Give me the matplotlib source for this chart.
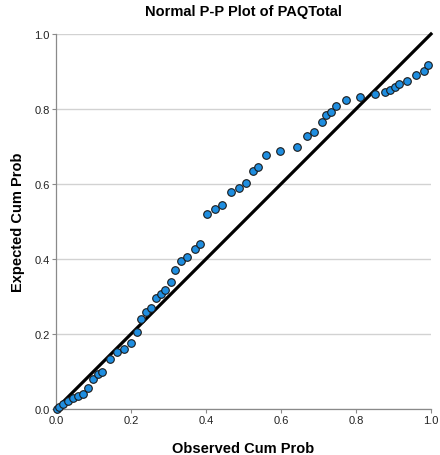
import matplotlib
matplotlib.use("Agg")
import matplotlib.pyplot as plt
import numpy as np

plt.rcParams['font.family'] = ['Liberation Sans', 'DejaVu Sans']

# observed vs expected cumulative probabilities
observed = [0.003, 0.008, 0.019, 0.032, 0.045, 0.059, 0.072, 0.085, 0.098, 0.111,
            0.123, 0.144, 0.163, 0.182, 0.200, 0.215, 0.226, 0.240, 0.253, 0.267,
            0.279, 0.291, 0.306, 0.317, 0.332, 0.350, 0.371, 0.384, 0.403, 0.423,
            0.442, 0.467, 0.487, 0.507, 0.526, 0.539, 0.559, 0.597, 0.643, 0.669,
            0.688, 0.709, 0.721, 0.733, 0.747, 0.773, 0.811, 0.851, 0.877, 0.890,
            0.903, 0.915, 0.935, 0.961, 0.981, 0.993]
expected = [0.001, 0.005, 0.013, 0.021, 0.029, 0.035, 0.040, 0.056, 0.081, 0.093,
            0.100, 0.133, 0.153, 0.160, 0.175, 0.205, 0.240, 0.259, 0.269, 0.297,
            0.308, 0.317, 0.339, 0.371, 0.394, 0.405, 0.428, 0.439, 0.520, 0.533,
            0.544, 0.578, 0.589, 0.602, 0.635, 0.645, 0.678, 0.688, 0.699, 0.728,
            0.738, 0.766, 0.783, 0.793, 0.809, 0.825, 0.831, 0.840, 0.846, 0.851,
            0.859, 0.867, 0.874, 0.891, 0.902, 0.918]
ticks = [0.0, 0.2, 0.4, 0.6, 0.8, 1.0]
tick_labels = ["0.0", "0.2", "0.4", "0.6", "0.8", "1.0"]

fig = plt.figure(figsize=(4.4, 4.56), dpi=100)
ax = fig.add_axes([56 / 440, 46 / 456, 375 / 440, 375 / 456])

ax.set_xlim(0, 1)
ax.set_ylim(0, 1)
ax.yaxis.grid(True, color='#d2d2d2', linewidth=1.0)
ax.set_axisbelow(True)

ax.plot([0, 1], [0, 1], color='black', linewidth=2.3, zorder=2, clip_on=False)
ax.scatter(observed, expected, s=30, color='#1f8ee0', edgecolors='#1a1a1a',
           linewidths=0.8, zorder=3, clip_on=False)

ax.set_xticks(ticks)
ax.set_xticklabels(tick_labels)
ax.set_yticks(ticks)
ax.set_yticklabels(tick_labels)
ax.tick_params(axis='both', labelsize=8, colors='#8a8a8a', labelcolor='#222222',
               length=3, width=0.8, pad=1.5)

for side in ['top', 'right']:
    ax.spines[side].set_visible(False)
for side in ['left', 'bottom']:
    ax.spines[side].set_color('#8a8a8a')
    ax.spines[side].set_linewidth(0.9)

ax.set_title("Normal P-P Plot of PAQTotal", fontsize=10.5, fontweight='bold', pad=14)
ax.set_xlabel("Observed Cum Prob", fontsize=10.5, fontweight='bold', labelpad=11)
ax.set_ylabel("Expected Cum Prob", fontsize=10.5, fontweight='bold', labelpad=7)

fig.savefig("out.png", dpi=100)
plt.close(fig)
